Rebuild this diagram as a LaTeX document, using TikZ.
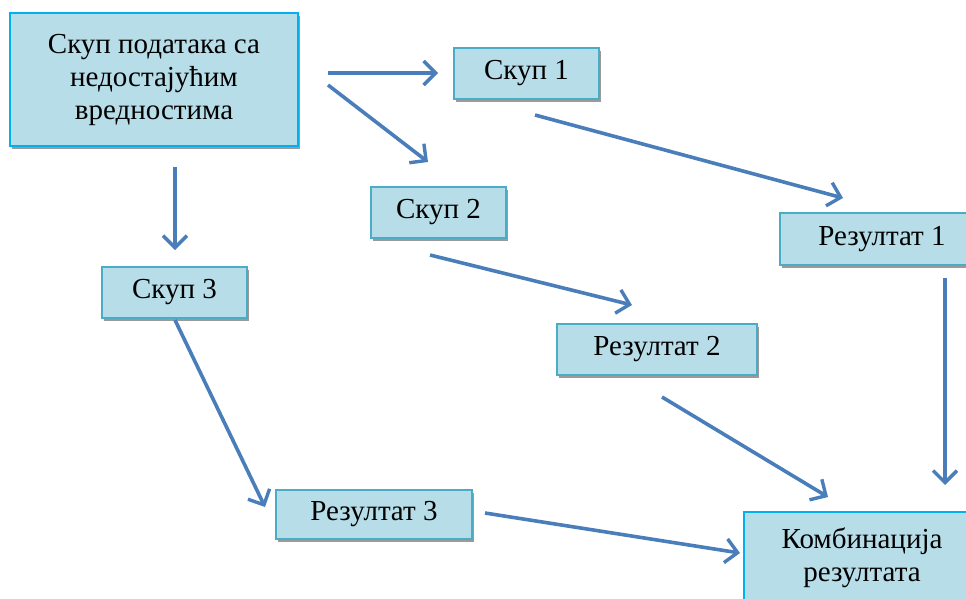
\documentclass[tikz,border=0pt]{standalone}
\usepackage{fontspec}
\setmainfont{Liberation Serif}
\usetikzlibrary{arrows.meta,shadows}
\definecolor{boxfill}{HTML}{B7DDE8}
\definecolor{brightedge}{HTML}{00B0F0}
\definecolor{tealedge}{HTML}{4BACC6}
\definecolor{arrowblue}{HTML}{4A7EBB}
\definecolor{shadowgray}{HTML}{9A9A9A}
\begin{document}
\begin{tikzpicture}[x=1pt,y=-1pt,
  box/.style={draw=tealedge, fill=boxfill, line width=2pt, inner sep=0pt,
    align=center, font=\fontsize{29}{33}\selectfont,
    drop shadow={shadow xshift=1.5pt, shadow yshift=-3pt, fill=shadowgray, opacity=1}},
  bigbox/.style={box, draw=brightedge},
  conn/.style={draw=arrowblue, line width=3.6pt,
    -{Straight Barb[length=12pt,width=24pt,line width=3.4pt]}}]
\useasboundingbox (0,0) rectangle (966,598);
\clip (0,0) rectangle (966,598);
\fill[white] (0,0) rectangle (966,598);
% boxes
\node[bigbox, minimum width=288pt, minimum height=133pt] (main) at (154,79.5)
  {Скуп података са\\недостајућим\\вредностима};
\node[box, minimum width=145pt, minimum height=51pt] (s1) at (526.5,73.5) {Скуп 1};
\node[box, minimum width=135pt, minimum height=51pt] (s2) at (438.5,212.5) {Скуп 2};
\node[box, minimum width=145pt, minimum height=51pt] (s3) at (174.5,292.5) {Скуп 3};
\node[box, minimum width=204pt, minimum height=52pt] (r1) at (882,239) {Резултат 1};
\node[box, minimum width=200pt, minimum height=51pt] (r2) at (657,349.5) {Резултат 2};
\node[box, minimum width=196pt, minimum height=49pt] (r3) at (374,514.5) {Резултат 3};
\node[bigbox, minimum width=236pt, minimum height=92pt] (comb) at (862,558)
  {Комбинација\\резултата};
% connector end points
\coordinate (a1s) at (328,73);  \coordinate (a1e) at (438,73);
\coordinate (a2s) at (328,85);  \coordinate (a2e) at (428,162);
\coordinate (a3s) at (175,167); \coordinate (a3e) at (175,250);
\coordinate (a4s) at (535,115); \coordinate (a4e) at (843,198);
\coordinate (a5s) at (430,255); \coordinate (a5e) at (632,305);
\coordinate (a6s) at (175,320); \coordinate (a6e) at (265,507);
\coordinate (a7s) at (945,278); \coordinate (a7e) at (945,485);
\coordinate (a8s) at (662,397); \coordinate (a8e) at (828,497);
\coordinate (a9s) at (485,513); \coordinate (a9e) at (740,553);
% connectors
\draw[conn] (a1s) -- (a1e);
\draw[conn] (a2s) -- (a2e);
\draw[conn] (a3s) -- (a3e);
\draw[conn] (a4s) -- (a4e);
\draw[conn] (a5s) -- (a5e);
\draw[conn] (a6s) -- (a6e);
\draw[conn] (a7s) -- (a7e);
\draw[conn] (a8s) -- (a8e);
\draw[conn] (a9s) -- (a9e);
\end{tikzpicture}
\end{document}
